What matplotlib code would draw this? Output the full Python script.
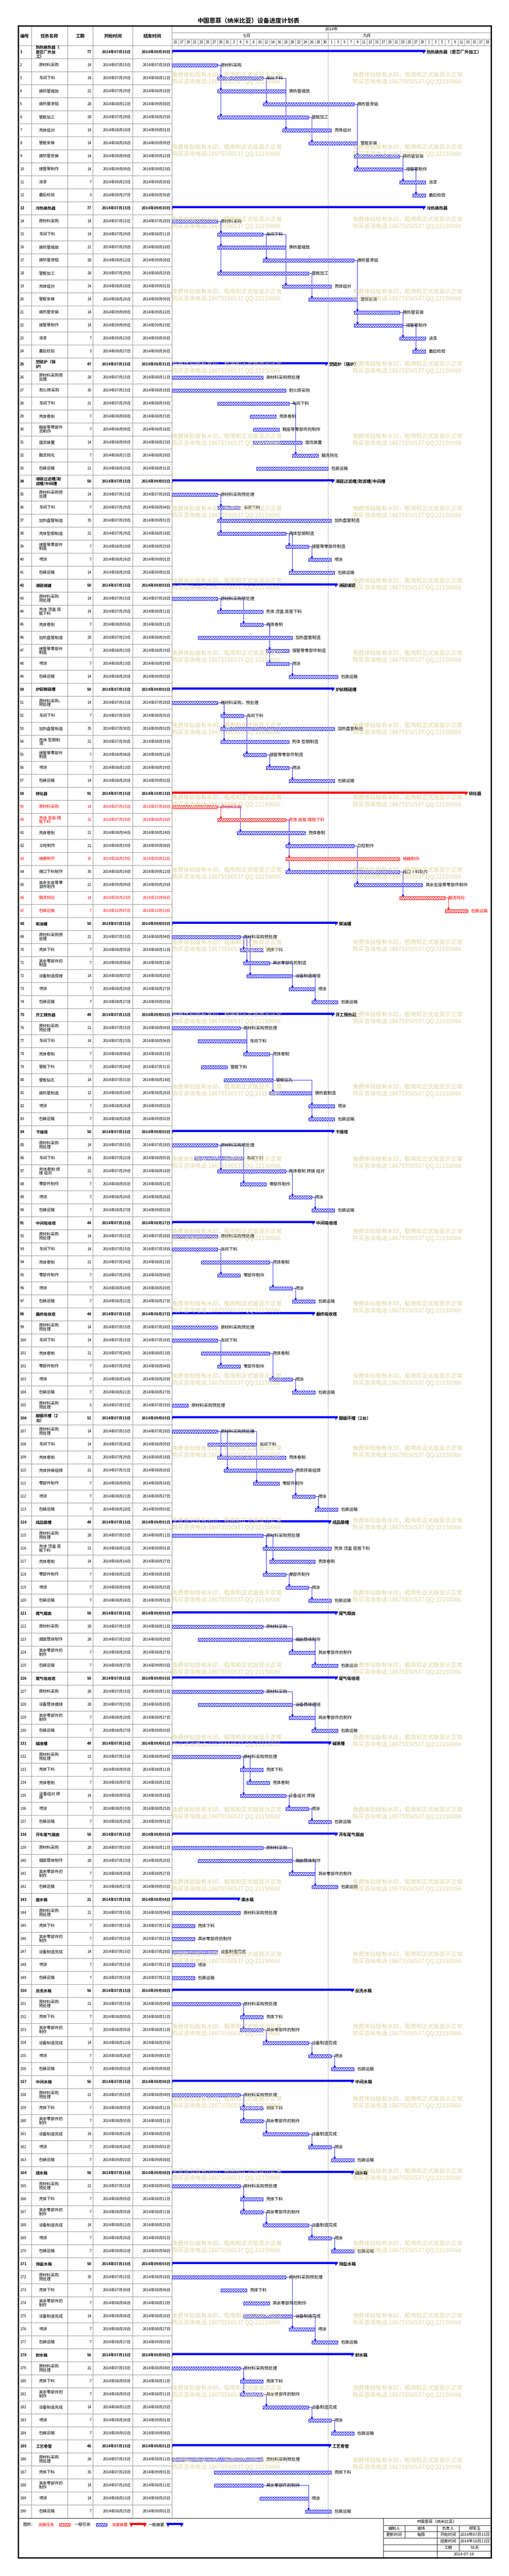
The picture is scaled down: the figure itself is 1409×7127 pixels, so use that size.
import matplotlib
matplotlib.use('Agg')
import matplotlib.pyplot as plt
import matplotlib.dates as mdates
from matplotlib.patches import Polygon, Rectangle
import numpy as np
import pandas as pd

plt.rcParams['font.family'] = ['Noto Sans CJK SC', 'DejaVu Sans']
plt.rcParams['hatch.linewidth'] = 0.6

# ---------------- data ----------------
names = [
    # 1
    '热热换热器（\n是否厂外加\n工）', '原材料采购', '车间下料', '换热管缩放', '换热管渗铝', '管板加工',
    '壳体组对', '管板安装', '换热管安装', '接管等制作', '涂漆', '最后检验',
    # 13
    '冷热换热器', '原材料采购', '车间下料', '换热管缩放', '换热管渗铝', '管板加工',
    '壳体组对', '管板安装', '换热管安装', '接管等制作', '涂漆', '最后检验',
    # 25
    '焚硫炉（锅\n炉）', '原材料采购预\n处理', '耐火砖采购', '车间下料', '壳体卷制', '鞍座等零部件\n的制作',
    '旋流装置', '酸洗钝化', '包装运输',
    # 34
    '液硫过滤槽/助\n滤槽/中间槽', '原材料采购预\n处理', '车间下料', '加热盘管制造', '壳体型钢制造',
    '接管等零部件\n制造', '喷涂', '包装运输',
    # 42
    '液硫储罐', '原材料采购\n预处理', '壳体 顶盖 底\n板下料', '壳体卷制', '加热盘管制造',
    '接管等零部件\n制造', '喷涂', '包装运输',
    # 50
    '炉前精硫槽', '原材料采购，\n预处理', '车间下料', '加热盘管制造', '壳体 型钢制\n造',
    '接管等零部件\n制造', '喷涂', '包装运输',
    # 58
    '转化器', '原材料采购', '壳体 底板 隔\n板下料', '壳体卷制', '立柱制作', '格栅制作', '接口下料制作',
    '其余支座等零\n部件制作', '酸洗钝化', '包装运输',
    # 68
    '柴油罐', '原材料采购预\n处理', '壳体下料', '其余零部件的\n制造', '设备制造焊接', '喷涂', '包装运输',
    # 75
    '开工预热器', '原材料采购\n预处理', '车间下料', '壳体卷制', '管板下料', '管板钻孔', '换热管制造',
    '喷涂', '包装运输',
    # 84
    '干燥塔', '原材料采购\n预处理', '车间下料', '壳体卷制 焊\n接 组对', '零部件制作', '喷涂', '包装运输',
    # 91
    '中间吸收塔', '原材料采购\n预处理', '车间下料', '壳体卷制', '零部件制作', '喷涂', '包装运输',
    # 98
    '最终吸收塔', '原材料采购\n预处理', '车间下料', '壳体卷制', '零部件制作', '喷涂', '包装运输',
    '原材料采购\n预处理',
    # 106
    '酸循环槽（2\n台）', '原材料采购\n预处理', '车间下料', '壳体卷制', '壳体拼装组焊', '零部件制作',
    '喷涂', '包装运输',
    # 114
    '成品酸槽', '原材料采购\n预处理', '壳体 顶盖 底\n板下料', '壳体卷制', '零部件制作', '喷涂', '包装运输',
    # 121
    '尾气烟囱', '原材料采购', '烟囱筒体制作', '其余零部件的\n制作', '包装运输',
    # 126
    '尾气吸收塔', '原材料采购', '设备筒体缠绕', '其余零部件的\n制作', '包装运输',
    # 131
    '碱液槽', '原材料采购\n预处理', '壳体下料', '壳体卷制', '设备组对 焊\n接', '喷涂', '包装运输',
    # 138
    '开车尾气烟囱', '原材料采购', '烟囱筒体制作', '其余零部件的\n制作', '包装运输',
    # 143
    '废水箱', '原材料采购\n预处理', '壳体下料', '其余零部件的\n制作', '设备制造完成', '喷涂', '包装运输',
    # 150
    '反洗水箱', '原材料采购\n预处理', '壳体下料', '其余零部件的\n制作', '设备制造完成', '喷涂', '包装运输',
    # 157
    '中间水箱', '原材料采购\n预处理', '壳体下料', '其余零部件的\n制作', '设备制造完成', '喷涂', '包装运输',
    # 164
    '疏水箱', '原材料采购\n预处理', '壳体下料', '其余零部件的\n制作', '设备制造完成', '喷涂', '包装运输',
    # 171
    '除盐水箱', '原材料采购\n预处理', '壳体下料', '其余零部件的\n制作', '设备制造完成', '喷涂', '包装运输',
    # 178
    '射水箱', '原材料采购\n预处理', '壳体下料', '其余零部件的\n制作', '设备制造完成', '喷涂', '包装运输',
    # 185
    '工艺卷管', '原材料采购\n预处理', '壳体下料', '其余零部件的\n制作', '喷涂', '包装运输',
]

durations = [
    77, 14, 14, 21, 28, 28, 14, 14, 14, 14, 7, 3,
    77, 14, 14, 21, 28, 28, 14, 14, 14, 14, 7, 3,
    47, 28, 35, 21, 7, 7, 14, 7, 21,
    50, 14, 7, 35, 21, 7, 7, 14,
    50, 14, 14, 7, 28, 7, 7, 14,
    50, 14, 7, 35, 21, 7, 7, 14,
    91, 14, 21, 21, 21, 35, 35, 21, 14, 7,
    50, 21, 7, 7, 14, 7, 7,
    49, 21, 14, 7, 7, 14, 12, 7, 7,
    50, 14, 14, 21, 7, 7, 7,
    44, 14, 14, 21, 7, 7, 7,
    44, 14, 14, 21, 7, 7, 7, 5,
    51, 14, 14, 21, 21, 7, 7, 7,
    49, 28, 21, 14, 7, 7, 7,
    50, 28, 28, 7, 7,
    50, 28, 28, 7, 7,
    49, 21, 7, 7, 14, 7, 7,
    50, 28, 28, 7, 7,
    21, 21, 7, 7, 14, 7, 7,
    56, 21, 7, 7, 14, 7, 7,
    56, 21, 7, 7, 14, 7, 7,
    56, 21, 7, 7, 14, 7, 7,
    50, 35, 7, 7, 14, 7, 7,
    56, 21, 7, 7, 14, 7, 7,
    48, 28, 35, 14, 14, 7,
]

starts = [
    '07-15', '07-15', '07-29', '07-29', '08-12', '07-29', '08-18', '08-26', '09-09', '09-09', '09-23', '09-27',
    '07-15', '07-15', '07-29', '07-29', '08-12', '07-29', '08-18', '08-26', '09-09', '09-09', '09-23', '09-27',
    '07-15', '07-15', '07-15', '07-29', '08-08', '08-09', '08-09', '08-21', '08-10',
    '07-15', '07-15', '07-29', '07-29', '07-29', '08-19', '08-26', '08-20',
    '07-15', '07-15', '07-29', '08-05', '07-23', '08-13', '08-13', '08-20',
    '07-15', '07-15', '07-30', '07-30', '07-30', '08-06', '08-13', '08-20',
    '07-15', '07-15', '07-29', '08-04', '08-19', '08-19', '08-19', '09-09', '09-23', '10-07',
    '07-15', '07-15', '08-05', '08-06', '08-07', '08-20', '08-27',
    '07-15', '07-15', '07-23', '08-06', '07-24', '07-31', '08-14', '08-26', '08-26',
    '07-15', '07-15', '07-22', '07-29', '08-05', '08-20', '08-27',
    '07-15', '07-15', '07-15', '07-24', '07-29', '08-14', '08-21',
    '07-15', '07-15', '07-15', '07-24', '07-29', '08-14', '08-21', '07-15',
    '07-15', '07-15', '07-26', '07-29', '07-31', '08-09', '08-21', '08-28',
    '07-15', '07-15', '08-12', '08-14', '08-12', '08-19', '08-26',
    '07-15', '07-15', '07-23', '08-20', '08-27',
    '07-15', '07-15', '07-23', '08-20', '08-27',
    '07-15', '07-15', '08-05', '08-07', '08-05', '08-19', '08-26',
    '07-15', '07-15', '07-23', '08-20', '08-27',
    '07-15', '07-15', '07-15', '07-15', '07-15', '07-15', '07-15',
    '07-15', '07-15', '08-05', '08-05', '08-12', '08-26', '09-02',
    '07-15', '07-15', '08-05', '08-05', '08-12', '08-26', '09-02',
    '07-15', '07-15', '08-05', '08-05', '08-12', '08-26', '09-02',
    '07-15', '07-15', '07-30', '08-06', '08-06', '08-20', '08-27',
    '07-15', '07-15', '08-05', '08-05', '08-12', '08-26', '09-02',
    '07-15', '07-15', '07-28', '07-28', '08-11', '08-25',
]

ends = [
    '09-30', '07-28', '08-11', '08-18', '09-08', '08-25', '09-01', '09-09', '09-22', '09-23', '09-30', '09-30',
    '09-30', '07-28', '08-11', '08-18', '09-08', '08-25', '09-01', '09-09', '09-22', '09-23', '09-30', '09-30',
    '08-31', '08-11', '08-18', '08-19', '08-15', '08-16', '08-23', '08-28', '08-31',
    '09-02', '07-28', '08-04', '09-01', '08-18', '08-25', '09-01', '09-02',
    '09-03', '07-28', '08-11', '08-11', '08-20', '08-19', '08-19', '09-03',
    '09-02', '07-28', '08-05', '09-02', '08-19', '08-12', '08-19', '09-02',
    '10-13', '07-28', '08-18', '08-24', '09-08', '09-22', '09-22', '09-29', '10-06', '10-13',
    '09-03', '08-04', '08-11', '08-13', '08-20', '08-27', '09-03',
    '09-02', '08-04', '08-06', '08-13', '07-31', '08-14', '08-26', '09-02', '09-02',
    '09-02', '07-28', '08-05', '08-18', '08-12', '08-26', '09-02',
    '08-27', '07-28', '07-28', '08-13', '08-04', '08-20', '08-27',
    '08-27', '07-28', '07-28', '08-13', '08-04', '08-20', '08-27', '07-19',
    '09-03', '07-28', '08-09', '08-18', '08-20', '08-16', '08-27', '09-03',
    '09-01', '08-11', '09-01', '08-27', '08-18', '08-25', '09-01',
    '09-03', '08-11', '08-20', '08-27', '09-03',
    '09-03', '08-11', '08-20', '08-27', '09-03',
    '09-01', '08-04', '08-11', '08-13', '08-18', '08-25', '09-01',
    '09-03', '08-11', '08-20', '08-27', '09-03',
    '08-04', '08-04', '07-21', '07-21', '07-28', '07-21', '07-21',
    '09-08', '08-04', '08-11', '08-11', '08-25', '09-01', '09-08',
    '09-08', '08-04', '08-11', '08-11', '08-25', '09-01', '09-08',
    '09-08', '08-04', '08-11', '08-11', '08-25', '09-01', '09-08',
    '09-03', '08-18', '08-06', '08-13', '08-20', '08-27', '09-03',
    '09-08', '08-04', '08-11', '08-11', '08-25', '09-01', '09-08',
    '09-01', '08-11', '09-01', '08-11', '08-25', '09-01',
]

summary_rows = [1, 13, 25, 34, 42, 50, 58, 68, 75, 84, 91, 98, 106, 114, 121, 126,
                131, 138, 143, 150, 157, 164, 171, 178, 185]
critical_summary = [58]
critical_rows = [59, 60, 63, 66, 67]

year = '2014'
timeline_start = '2014-07-15'
timeline_days = 98
day_ticks = pd.date_range('2014-07-15', '2014-10-19', freq='2D')
month_labels = ['七月', '九月']
month_label_at = ['2014-08-07', '2014-09-13']
month_breaks = ['2014-09-01']
marker_date = '2014-09-01'

title = '中国恩菲（纳米比亚）设备进度计划表'
col_headers = ['编号', '任务名称', '工期', '开始时间', '结束时间']
info_company = '中国恩菲（纳米比亚）'
info_cells = [('编制人', '谢玮', '负责人', '郑军玉'),
              ('更新时间', '每周', '开始时间', '2014年07月15日')]
info_right = [('结束时间', '2014年10月13日'), ('工期', '91天')]
info_date = '2014-07-16'
watermark = ['免费体验版有水印，租用和正式版显示正常', '购买咨询电话:18675550537 QQ:22150066']

# ---------------- layout ----------------
W, H = 1409, 7127
GRAY = '#808080'
BLUE = '#0000ff'
RED = '#ff0000'
HATCH = 'xxxxx'
n = len(names)
col_x = [49, 87, 187, 257, 367, 476]
x_right = 1358
y_top, y_rows = 71, 126
row_h = 36
y_tbl = y_rows + n * row_h
y_end = 7077

fig = plt.figure(figsize=(W / 100, H / 100), dpi=100)
ax0 = fig.add_axes([0, 0, 1, 1])
ax0.set_xlim(0, W)
ax0.set_ylim(H, 0)
ax0.axis('off')

ax_t = fig.add_axes([0, 1 - y_tbl / H, 1, (y_tbl - y_rows) / H])
ax_t.set_xlim(0, W)
ax_t.set_ylim(n + 0.5, 0.5)
ax_t.axis('off')
ax_t.patch.set_alpha(0)

d0 = mdates.date2num(pd.Timestamp(timeline_start))
d1 = d0 + timeline_days
gx = [col_x[-1] / W, (x_right - col_x[-1]) / W]

ax_h = fig.add_axes([gx[0], 1 - y_rows / H, gx[1], (y_rows - y_top) / H])
ax_h.set_xlim(d0, d1)
ax_h.set_ylim(y_rows - y_top, 0)
ax_h.axis('off')
ax_h.patch.set_alpha(0)

ax_g = fig.add_axes([gx[0], 1 - y_tbl / H, gx[1], (y_tbl - y_rows) / H])
ax_g.set_xlim(d0, d1)
ax_g.set_ylim(n + 0.5, 0.5)
ax_g.axis('off')
ax_g.patch.set_alpha(0)

# title and header
ax0.text(688, 58, title, ha='center', va='center', fontsize=12, fontweight='bold')
ax0.vlines(col_x[1:], y_top, y_tbl, color=GRAY, lw=0.8)
ax0.hlines([90, 108], col_x[-1], x_right, color=GRAY, lw=0.8)
ax0.hlines(y_rows, col_x[0], x_right, color=GRAY, lw=0.8)
for i, h in enumerate(col_headers):
    ax0.text((col_x[i] + col_x[i + 1]) / 2, 100, h, ha='center', va='center',
             fontsize=9, fontweight='bold')

ax_h.text((d0 + d1) / 2, 9.5, year + '年', ha='center', va='center', fontsize=8)
for lab, d in zip(month_labels, month_label_at):
    ax_h.text(mdates.date2num(pd.Timestamp(d)), 28, lab, ha='center', va='center', fontsize=8)
ax_h.vlines(mdates.date2num(pd.to_datetime(month_breaks)), 19, 37, color=GRAY, lw=0.8)
tick_num = mdates.date2num(day_ticks)
ax_h.vlines(tick_num[1:], 37, 55, color=GRAY, lw=0.8)
for t, d in zip(tick_num, day_ticks):
    ax_h.text(t + 1, 46.5, str(d.day), ha='center', va='center', fontsize=7)

# table body
rows = np.arange(1, n + 1)
ax_t.hlines(rows[:-1] + 0.5, col_x[0], col_x[-1], color=GRAY, lw=0.8)


def cn_date(s):
    m, d = s.split('-')
    return f'{year}年{m}月{d}日'


for i in rows:
    k = i - 1
    bold = 'bold' if i in summary_rows else 'normal'
    c = RED if i in critical_rows else 'black'
    ax_t.text(55, i, str(i), ha='left', va='center', fontsize=7.5, fontweight=bold, color=c)
    nx = 99 if i in summary_rows else 108
    ax_t.text(nx, i, names[k], ha='left', va='center', fontsize=8, fontweight=bold,
              color=c, linespacing=0.95)
    ax_t.text(253, i, str(durations[k]), ha='right', va='center', fontsize=7.5,
              fontweight=bold, color=c)
    ax_t.text(362, i, cn_date(starts[k]), ha='right', va='center', fontsize=7.5,
              fontweight=bold, color=c)
    ax_t.text(472, i, cn_date(ends[k]), ha='right', va='center', fontsize=7.5,
              fontweight=bold, color=c)

# gantt bars
s_num = mdates.date2num(pd.to_datetime([year + '-' + s for s in starts]))
e_num = mdates.date2num(pd.to_datetime([year + '-' + s for s in ends])) + 1

is_sum = np.isin(rows, summary_rows)
is_crit = np.isin(rows, critical_rows)
is_csum = np.isin(rows, critical_summary)

for mask, col in [(~is_sum & ~is_crit, BLUE), (is_crit, RED)]:
    ax_g.barh(rows[mask], (e_num - s_num)[mask], left=s_num[mask], height=9 / 36,
              color='white', edgecolor=col, hatch=HATCH, linewidth=0.8, zorder=3)

bar_top, tip, tw = 6 / 36, 5 / 36, 1.15
for mask, col in [(is_sum & ~is_csum, BLUE), (is_csum, RED)]:
    ax_g.barh(rows[mask] - bar_top / 2, (e_num - s_num)[mask], left=s_num[mask],
              height=bar_top, color=col, linewidth=0, zorder=3)
    for r, a, b in zip(rows[mask], s_num[mask], e_num[mask]):
        ax_g.add_patch(Polygon([(a - tw * 0.45, r - bar_top), (a + tw * 0.55, r - bar_top),
                                (a + tw * 0.05, r + tip)], color=col, lw=0, zorder=3))
        ax_g.add_patch(Polygon([(b - tw, r - bar_top), (b, r - bar_top),
                                (b - tw / 2, r + tip)], color=col, lw=0, zorder=3))

# labels
for i in rows:
    k = i - 1
    label = names[k].replace('\n', '')
    if i in summary_rows:
        ax_g.annotate(label, (e_num[k], i), xytext=(2, 0), textcoords='offset points',
                      ha='left', va='center', fontsize=8.5, fontweight='bold',
                      annotation_clip=False, zorder=5)
    else:
        ax_g.annotate(label, (e_num[k], i), xytext=(6, 0), textcoords='offset points',
                      ha='left', va='center', fontsize=8.5,
                      color=RED if i in critical_rows else 'black',
                      annotation_clip=False, zorder=5)

# dependency links: predecessor ends the day before (or latest before) the start
group_of = {}
for i in rows:
    group_of[i] = max(g for g in summary_rows if g <= i)


def predecessor(i):
    g = group_of[i]
    s = s_num[i - 1]
    if s == s_num[g - 1]:
        return None
    members = list(range(g + 1, i))
    exact = [j for j in members if e_num[j - 1] == s]
    if exact:
        return exact[-1]
    before = [j for j in members if e_num[j - 1] < s]
    if not before:
        return None
    best = max(e_num[j - 1] for j in before)
    return [j for j in before if e_num[j - 1] == best][-1]


for i in rows:
    if i in summary_rows:
        continue
    p = predecessor(i)
    if p is None:
        continue
    col = RED if (p in critical_rows and i in critical_rows) else BLUE
    xv = s_num[i - 1] + 1.0
    yb = i - 4.5 / 36
    ax_g.plot([e_num[p - 1], xv, xv], [p, p, yb - 0.06], color=col, lw=0.8, zorder=2)
    ax_g.plot([xv], [yb - 0.05], marker='v', ms=3.5, color=col, zorder=4)

ax_g.axvline(mdates.date2num(pd.Timestamp(marker_date)), color='black', lw=0.7,
             ls=(0, (1, 2)), zorder=1)

# footer: legend
ax0.hlines(y_tbl + 0.5, col_x[0], x_right, color='black', lw=0.9)
ly = 6985
ax0.text(63, ly, '图例：', ha='left', va='center', fontsize=8)
ax0.text(105, ly, '关键任务', ha='left', va='center', fontsize=8, color=RED)
ax0.add_patch(Rectangle((164, ly - 4), 30, 8, fc='white', ec=RED, hatch=HATCH, lw=0.8))
ax0.text(207, ly, '一般任务', ha='left', va='center', fontsize=8)
ax0.add_patch(Rectangle((266, ly - 4), 30, 8, fc='white', ec=BLUE, hatch=HATCH, lw=0.8))
ax0.text(309, ly, '关键摘要', ha='left', va='center', fontsize=8, color=RED)
ax0.text(411, ly, '一般摘要', ha='left', va='center', fontsize=8)
for a, b, col in [(362, 405, RED), (464, 507, BLUE)]:
    ax0.add_patch(Rectangle((a, ly - 5), b - a, 6, color=col, lw=0))
    ax0.add_patch(Polygon([(a - 4, ly - 5), (a + 7, ly - 5), (a + 1, ly + 7)], color=col, lw=0))
    ax0.add_patch(Polygon([(b - 10, ly - 5), (b, ly - 5), (b - 5, ly + 7)], color=col, lw=0))

# footer: info block
bx = [1061, 1121, 1210, 1271, x_right]
by = [y_tbl, 6987, 7004, 7022, 7040, 7058, y_end]
ax0.hlines(by[1:6], bx[0], bx[4], color='black', lw=0.8)
ax0.vlines(bx[0], by[0], by[6], color='black', lw=0.8)
ax0.vlines(bx[1], by[1], by[3], color='black', lw=0.8)
ax0.vlines(bx[2], by[1], by[6], color='black', lw=0.8)
ax0.vlines(bx[3], by[1], by[5], color='black', lw=0.8)


def cell(x_a, x_b, y_a, y_b, s):
    ax0.text((x_a + x_b) / 2, (y_a + y_b) / 2, s, ha='center', va='center', fontsize=8)


cell(bx[0], bx[4], by[0], by[1], info_company)
for r, vals in enumerate(info_cells):
    for c, v in enumerate(vals):
        cell(bx[c], bx[c + 1], by[r + 1], by[r + 2], v)
for r, (a, b) in enumerate(info_right):
    cell(bx[2], bx[3], by[r + 3], by[r + 4], a)
    cell(bx[3], bx[4], by[r + 3], by[r + 4], b)
cell(bx[2], bx[4], by[5], by[6], info_date)

# outer border
ax0.add_patch(Rectangle((51, 72), 1360 - 51, y_end - 72, fill=False, ec='black', lw=2.6, zorder=6))

# watermark overlay
ax_w = fig.add_axes([0, 0, 1, 1])
ax_w.set_xlim(0, W)
ax_w.set_ylim(H, 0)
ax_w.axis('off')
ax_w.patch.set_alpha(0)
for wy in range(208, y_tbl - 100, 200):
    for wx in (476, 976):
        ax_w.text(wx, wy, watermark[0], ha='left', va='center', fontsize=11.5, color='#ddd49b')
        ax_w.text(wx, wy + 19, watermark[1], ha='left', va='center', fontsize=11.5, color='#ddd49b')

fig.savefig('out.png', dpi=100)
